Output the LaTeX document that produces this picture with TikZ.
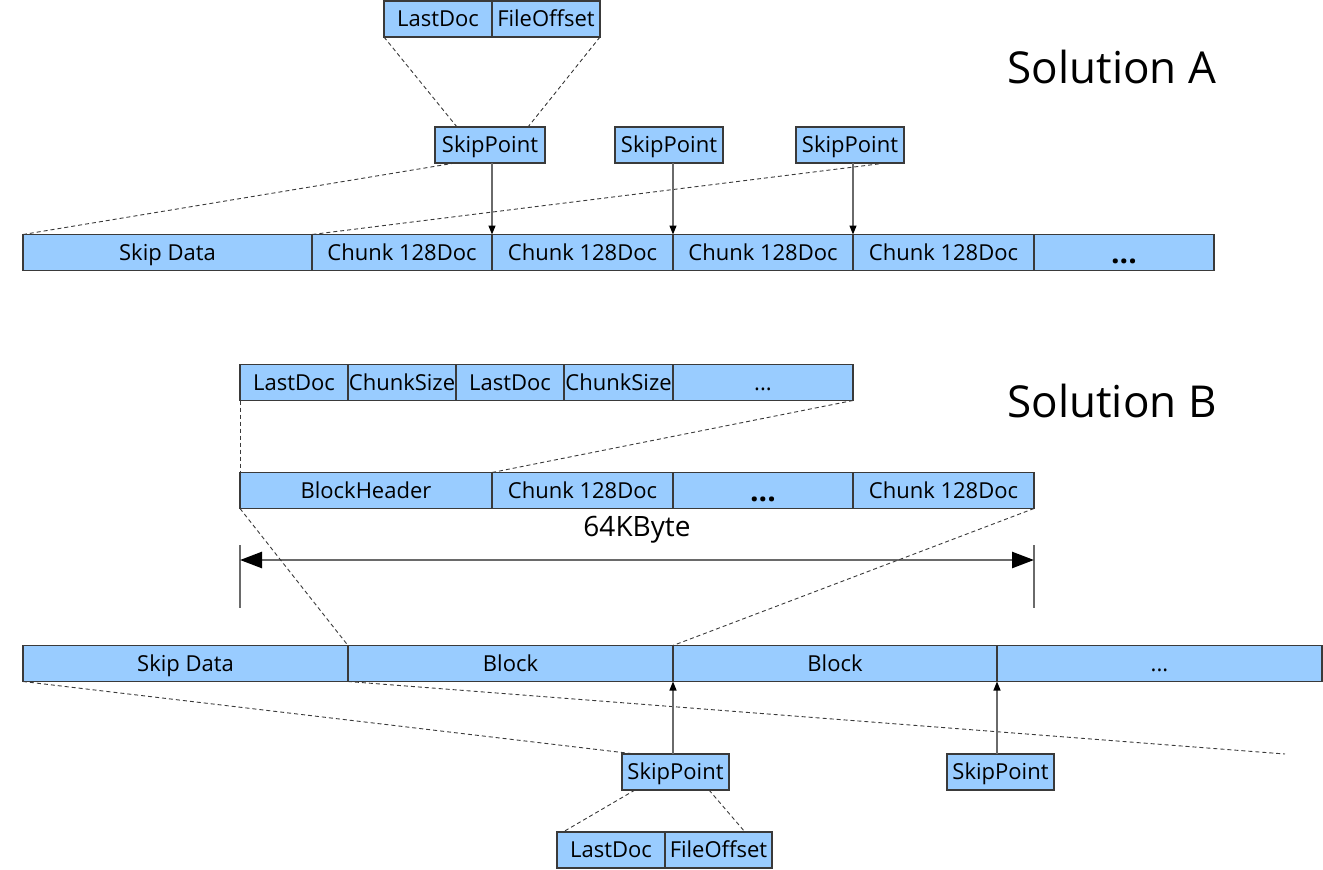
\documentclass[tikz,border=0pt]{standalone}
\usepackage{fontspec}
\setmainfont{Open Sans}
\usepackage{xcolor}
\usetikzlibrary{positioning,arrows.meta}
\definecolor{cellblue}{HTML}{99CCFF}
\definecolor{edgegray}{HTML}{3A3A3A}
\definecolor{linegray}{HTML}{6A6A6A}

\begin{document}
\begin{tikzpicture}[x=1pt,y=-1pt,
    cell/.style={draw=edgegray, fill=cellblue, line width=1.2pt, inner sep=0pt, outer sep=0pt,
        minimum height=36pt, text height=17pt, text depth=2pt, font=\fontsize{22}{24}\selectfont},
    bigdots/.style={text height=22pt, text depth=0pt, font=\fontsize{30}{30}\bfseries},
    link/.style={draw=edgegray, dashed, dash pattern=on 4pt off 3pt, line width=0.9pt},
    ptr/.style={draw=linegray, line width=1.3pt, -{Triangle[length=9pt,width=7pt,color=black]}},
    title/.style={font=\fontsize{44}{50}\selectfont}]
    \useasboundingbox (0,0) rectangle (1323,870);

    % Solution A
    \node[title] (titleA) at (1112,67) {Solution A};
    \node[cell, minimum width=108pt] (lastA) at (438,19) {LastDoc};
    \node[cell, minimum width=108pt, right=0pt of lastA] (offA) {FileOffset};
    \node[cell, minimum width=110pt] (spA1) at (490,145) {SkipPoint};
    \node[cell, minimum width=108pt] (spA2) at (669,145) {SkipPoint};
    \node[cell, minimum width=108pt] (spA3) at (850,145) {SkipPoint};

    \node[cell, minimum width=289pt] (skipA) at (167.5,252.5) {Skip Data};
    \node[cell, minimum width=180pt, right=0pt of skipA] (chA1) {Chunk 128Doc};
    \node[cell, minimum width=181pt, right=0pt of chA1] (chA2) {Chunk 128Doc};
    \node[cell, minimum width=180pt, right=0pt of chA2] (chA3) {Chunk 128Doc};
    \node[cell, minimum width=181pt, right=0pt of chA3] (chA4) {Chunk 128Doc};
    \node[cell, bigdots, minimum width=180pt, right=0pt of chA4] (dotsA) {...};

    \draw[link] (lastA.south west) -- ([xshift=22pt]spA1.north west);
    \draw[link] (offA.south east) -- ([xshift=-17pt]spA1.north east);
    \draw[link] ([xshift=20pt]spA1.south west) -- (skipA.north west);
    \draw[link] ([xshift=-18pt]spA3.south east) -- (chA1.north west);
    \draw[ptr] (spA1.south -| chA2.west) -- (chA2.north west);
    \draw[ptr] (spA2.south -| chA3.west) -- (chA3.north west);
    \draw[ptr] (spA3.south -| chA4.west) -- (chA4.north west);

    % Solution B
    \node[title] (titleB) at (1112,401) {Solution B};
    \node[cell, minimum width=108pt] (lastB1) at (294,382.5) {LastDoc};
    \node[cell, minimum width=108pt, right=0pt of lastB1] (sizeB1) {ChunkSize};
    \node[cell, minimum width=108pt, right=0pt of sizeB1] (lastB2) {LastDoc};
    \node[cell, minimum width=109pt, right=0pt of lastB2] (sizeB2) {ChunkSize};
    \node[cell, minimum width=180pt, right=0pt of sizeB2] (dotsB1) {...};

    \node[cell, minimum width=252pt] (hdr) at (366,490.5) {BlockHeader};
    \node[cell, minimum width=181pt, right=0pt of hdr] (chB1) {Chunk 128Doc};
    \node[cell, bigdots, minimum width=180pt, right=0pt of chB1] (dotsB2) {...};
    \node[cell, minimum width=181pt, right=0pt of dotsB2] (chB2) {Chunk 128Doc};

    \draw[link] (lastB1.south west) -- (hdr.north west);
    \draw[link] (dotsB1.south east) -- (chB1.north west);

    % block size
    \node[font=\fontsize{28}{30}\selectfont] (size) at (637,530) {64KByte};
    \coordinate (dimL) at (240,545);
    \coordinate (dimR) at (1034,545);
    \draw[linegray, line width=1.5pt] (dimL) -- ++(0,63);
    \draw[linegray, line width=1.5pt] (dimR) -- ++(0,63);
    \draw[linegray, line width=2.5pt, {Triangle[length=22pt,width=16pt,color=black]}-{Triangle[length=22pt,width=16pt,color=black]}]
        ([yshift=-15pt]dimL) -- ([yshift=-15pt]dimR);

    \node[cell, minimum width=325pt] (skipB) at (185.5,663.5) {Skip Data};
    \node[cell, minimum width=325pt, right=0pt of skipB] (blk1) {Block};
    \node[cell, minimum width=324pt, right=0pt of blk1] (blk2) {Block};
    \node[cell, minimum width=325pt, right=0pt of blk2] (dotsB3) {...};

    \draw[link] (hdr.south west) -- (blk1.north west);
    \draw[link] (chB2.south east) -- (blk2.north west);

    \node[cell, minimum width=107pt] (spB1) at (675.5,772) {SkipPoint};
    \node[cell, minimum width=107pt] (spB2) at (1000.5,772) {SkipPoint};
    \node[cell, minimum width=108pt] (lastC) at (611,850) {LastDoc};
    \node[cell, minimum width=107pt, right=0pt of lastC] (offC) {FileOffset};
    \coordinate (tailB) at (1285,754);

    \draw[link] (skipB.south west) -- ([xshift=13pt]spB1.north west);
    \draw[link] (blk1.south west) -- (tailB);
    \draw[link] ([xshift=13pt]spB1.south west) -- ([xshift=6pt]lastC.north west);
    \draw[link] ([xshift=-20pt]spB1.south east) -- ([xshift=-27pt]offC.north east);
    \draw[ptr] (spB1.north -| blk2.west) -- (blk2.south west);
    \draw[ptr] (spB2.north -| dotsB3.west) -- (dotsB3.south west);
\end{tikzpicture}
\end{document}
